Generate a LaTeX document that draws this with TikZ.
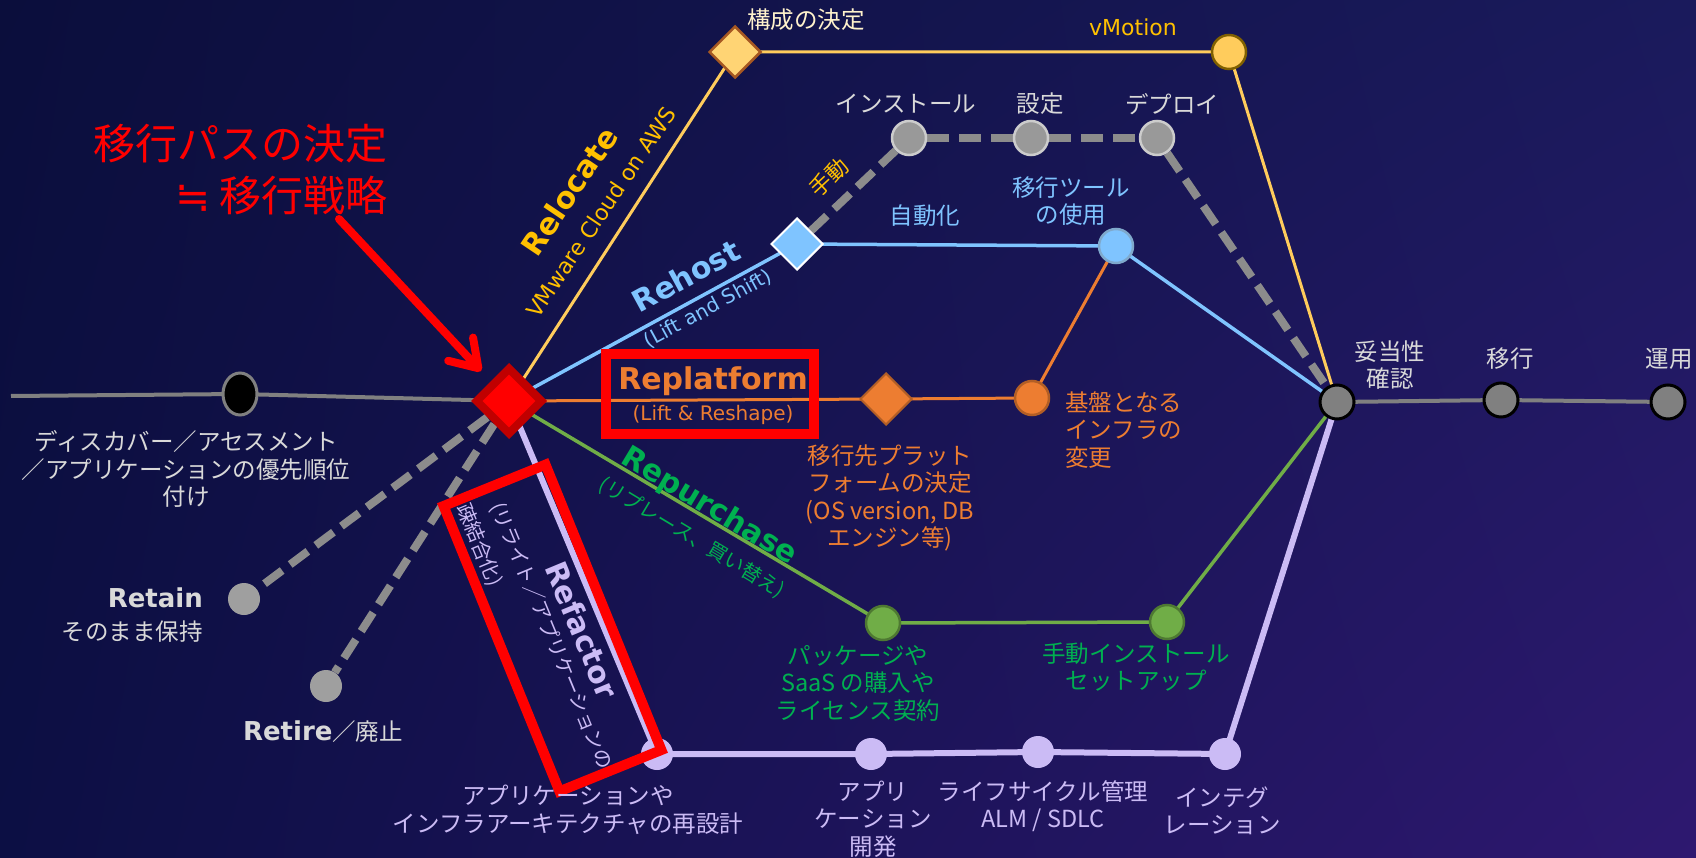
\documentclass[tikz,border=0pt]{standalone}
\usepackage{fontspec}
\setmainfont{DejaVu Sans}
\newfontfamily\jp{Noto Sans CJK JP}
\newfontfamily\dvs{DejaVu Sans}
\usetikzlibrary{shapes.geometric,arrows.meta,shadings}
\definecolor{bgUL}{HTML}{0B0E3C}
\definecolor{bgUR}{HTML}{1A1A5C}
\definecolor{bgLL}{HTML}{0C0F44}
\definecolor{bgLR}{HTML}{2E1870}
\definecolor{txtgray}{HTML}{D9D9D9}
\definecolor{linegray}{HTML}{808080}
\definecolor{dashgray}{HTML}{8C8C8C}
\definecolor{yel}{HTML}{FFC000}
\definecolor{yelline}{HTML}{FFCC5C}
\definecolor{cream}{HTML}{FFF2CC}
\definecolor{bluec}{HTML}{7FC4FF}
\definecolor{orangec}{HTML}{ED7D31}
\definecolor{greentxt}{HTML}{00B050}
\definecolor{greenline}{HTML}{70AD47}
\definecolor{lav}{HTML}{CBBBF5}
\definecolor{darkred}{HTML}{C00000}
\pgfdeclarelayer{bglayer}
\pgfdeclarelayer{edgelayer}
\pgfsetlayers{bglayer,edgelayer,main}
\tikzset{
  circ/.style={circle, minimum size=34pt, inner sep=0pt, line width=2.5pt},
  diam/.style={diamond, minimum width=52pt, minimum height=52pt, inner sep=0pt, line width=2pt},
  jl/.style={font=\jp\fontsize{23.5}{27.5}\selectfont, align=center, inner sep=0pt},
  jsmall/.style={font=\jp\fontsize{20}{24}\selectfont, inner sep=0pt},
  boldlab/.style={font=\bfseries\fontsize{30}{36}\selectfont, inner sep=0pt},
  sublab/.style={font=\fontsize{20}{24}\selectfont, inner sep=0pt},
  latinlab/.style={font=\fontsize{22}{26}\selectfont, inner sep=0pt},
  redbox/.style={draw=red, line width=10pt, inner sep=0pt},
  gdash/.style={dashgray, line width=8pt, dash pattern=on 22pt off 10pt},
}
\begin{document}
\begin{tikzpicture}[x=1pt,y=-1pt]
\useasboundingbox (0,0) rectangle (1696,858);
\begin{pgfonlayer}{bglayer}
\shade[upper left=bgUL, upper right=bgUR, lower left=bgLL, lower right=bgLR] (0,0) rectangle (1696,858);
\end{pgfonlayer}

% ---- nodes ----
\coordinate (leftend) at (11,396);
\node[ellipse, minimum width=34pt, minimum height=42pt, inner sep=0pt, fill=black, draw=linegray, line width=3pt] (disc) at (240,394) {};
\node[diamond, minimum width=68pt, minimum height=68pt, inner sep=0pt, fill=red, draw=darkred, line width=8pt] (red) at (509,401) {};

\node[diam, fill=yelline!85!white, draw=orangec!70!black, line width=2.5pt] (yd) at (735,52) {};
\node[circ, fill=yelline, draw=yel!50!black] (vm) at (1229,52) {};

\node[circ, fill=linegray, draw=black, line width=3pt] (hub) at (1337,402) {};
\node[circ, fill=linegray, draw=black, line width=3pt] (mig) at (1501,400) {};
\node[circ, fill=linegray, draw=black, line width=3pt] (ops) at (1668,402) {};

\node[diam, fill=bluec, draw=white] (bd) at (797,244) {};
\node[circ, fill=bluec, draw=bluec!60!gray] (bc) at (1116,246) {};

\node[circ, fill=gray!80, draw=gray!40] (g1) at (909,138) {};
\node[circ, fill=gray!80, draw=gray!40] (g2) at (1031,138) {};
\node[circ, fill=gray!80, draw=gray!40] (g3) at (1157,138) {};

\node[diam, fill=orangec, draw=orangec!75!black] (od) at (886,399) {};
\node[circ, fill=orangec, draw=orangec!75!black] (oc) at (1032,398) {};

\node[circ, fill=greenline, draw=greenline!70!black] (gc1) at (883,623) {};
\node[circ, fill=greenline, draw=greenline!70!black] (gc2) at (1167,622) {};

\node[circle, minimum size=32pt, inner sep=0pt, fill=lav] (lc1) at (657,754) {};
\node[circle, minimum size=32pt, inner sep=0pt, fill=lav] (lc2) at (871,754) {};
\node[circle, minimum size=32pt, inner sep=0pt, fill=lav] (lc3) at (1038,752) {};
\node[circle, minimum size=32pt, inner sep=0pt, fill=lav] (lc4) at (1225,754) {};

\node[circle, minimum size=32pt, inner sep=0pt, fill=gray!75] (retain) at (244,599) {};
\node[circle, minimum size=32pt, inner sep=0pt, fill=gray!75] (retire) at (326,686) {};

% ---- edges ----
\begin{pgfonlayer}{edgelayer}
\draw[linegray, line width=4pt] (leftend) -- (disc.center) -- (red.center);
\draw[linegray, line width=4pt] (hub.center) -- (mig.center) -- (ops.center);
\draw[yelline, line width=3pt] (red.center) -- (yd.center) -- (vm.center) -- (hub.center);
\draw[bluec, line width=3.5pt] (red.center) -- (bd.center) -- (bc.center) -- (hub.center);
\draw[gdash] (bd) -- (g1);
\draw[gdash] (g1) -- (g2);
\draw[gdash] (g2) -- (g3);
\draw[gdash] (g3) -- (hub);
\draw[orangec, line width=3pt] (red.center) -- (od.center) -- (oc.center) -- (bc.center);
\draw[greenline, line width=3.5pt] (red.center) -- (gc1.center) -- (gc2.center) -- (hub.center);
\draw[lav, line width=6pt] (red.center) -- (lc1.center) -- (lc2.center) -- (lc3.center) -- (lc4.center) -- (hub.center);
\draw[gdash] (red) -- (retain);
\draw[gdash] (red) -- (retire);
\end{pgfonlayer}

% ---- refactor labels (under the box) ----
\node[boldlab, text=lav, rotate=-67.5] (refac) at (582,630) {Refactor};
\node[jsmall, text=lav, rotate=-67.5] (refacsub1) at (551,636) {(リライト／アプリケーションの};
\node[jsmall, text=lav, rotate=-67.5] (refacsub2) at (479,545) {疎結合化)};

% ---- highlight boxes ----
\node[redbox, minimum width=208pt, minimum height=80pt] (rpbox) at (710,394) {};
\node[redbox, minimum width=308pt, minimum height=110pt, rotate=-67.9] (rfbox) at (552.5,628) {};

% ---- title + arrow ----
\node[font=\jp\fontsize{42}{52}\selectfont, text=red, align=right, anchor=east, inner sep=0pt] (title) at (388,170) {移行パスの決定\\{\dvs ≒} 移行戦略};
\coordinate (astart) at (339,219);
\draw[red, line width=8pt, line cap=round, shorten >=14pt, -{Straight Barb[length=26pt, width=34pt, round]}] (astart) -- (red);

% ---- labels ----
\node[jl, text=txtgray] (disclbl) at (186,469) {ディスカバー／アセスメント\\／アプリケーションの優先順位\\付け};
\node[boldlab, font=\bfseries\fontsize{26}{30}\selectfont, text=txtgray, anchor=east] (retainlbl) at (203,598) {Retain};
\node[jl, text=txtgray, anchor=east] (retainsub) at (203,632) {そのまま保持};
\node[inner sep=0pt, text=txtgray] (retirelbl) at (323,732) {{\bfseries\fontsize{26}{30}\selectfont Retire}{\jp\fontsize{23.5}{28}\selectfont ／廃止}};

\node[jl, text=cream] (ydlbl) at (806,20) {構成の決定};
\node[latinlab, text=yel] (vmlbl) at (1133,27) {vMotion};
\node[boldlab, text=yel, rotate=56] (relocate) at (569,191) {Relocate};
\node[latinlab, text=yel, rotate=56] (vmw) at (601,212) {VMware Cloud on AWS};

\node[jl, text=txtgray] (g1lbl) at (906,104) {インストール};
\node[jl, text=txtgray] (g2lbl) at (1040,104) {設定};
\node[jl, text=txtgray] (g3lbl) at (1172,104) {デプロイ};
\node[jsmall, font=\jp\fontsize{22}{26}\selectfont, text=yel, rotate=43] (manual) at (829,177) {手動};

\node[jl, text=bluec] (autolbl) at (925,216) {自動化};
\node[jl, text=bluec] (toollbl) at (1071,201) {移行ツール\\の使用};
\node[boldlab, text=bluec, rotate=28.6] (rehost) at (686,276) {Rehost};
\node[sublab, text=bluec, rotate=28.6] (rehostsub) at (708,309) {(Lift and Shift)};

\node[boldlab, text=orangec] (replat) at (713,381) {Replatform};
\node[sublab, text=orangec] (replatsub) at (713,415) {(Lift \& Reshape)};
\node[jl, text=orangec] (odlbl) at (890,498) {移行先プラット\\フォームの決定\\(OS version, DB\\エンジン等)};
\node[jl, text=orangec, align=left, anchor=west] (oclbl) at (1065,430) {基盤となる\\インフラの\\変更};

\node[boldlab, text=greentxt, rotate=-31] (repur) at (709,507) {Repurchase};
\node[jsmall, text=greentxt, rotate=-31] (repursub) at (692,538) {(リプレース、買い替え)};
\node[jl, text=greentxt] (gc1lbl) at (858,683) {パッケージや\\SaaS の購入や\\ライセンス契約};
\node[jl, text=greentxt] (gc2lbl) at (1136,667) {手動インストール\\セットアップ};

\node[jl, text=lav] (lc1lbl) at (568,810) {アプリケーションや\\インフラアーキテクチャの再設計};
\node[jl, text=lav] (lc2lbl) at (873,819) {アプリ\\ケーション\\開発};
\node[jl, text=lav] (lc3lbl) at (1043,806) {ライフサイクル管理\\ALM / SDLC};
\node[jl, text=lav] (lc4lbl) at (1222,811) {インテグ\\レーション};

\node[jl, text=txtgray] (hublbl) at (1390,365) {妥当性\\確認};
\node[jl, text=txtgray] (miglbl) at (1510,359) {移行};
\node[jl, text=txtgray] (opslbl) at (1669,359) {運用};
\end{tikzpicture}
\end{document}
